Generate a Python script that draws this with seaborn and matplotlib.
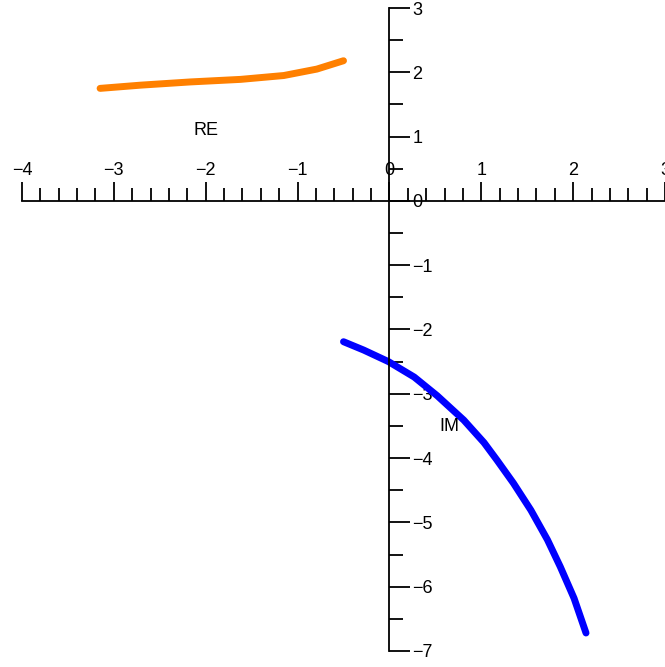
import matplotlib
matplotlib.use("Agg")
import matplotlib.pyplot as plt
import seaborn as sns
from matplotlib.ticker import MultipleLocator

# Werte
re_x = [-3.15, -2.71, -2.17, -1.62, -1.15, -0.79, -0.50]
re_y = [1.75, 1.80, 1.85, 1.89, 1.95, 2.05, 2.18]

im_x = [-0.50, -0.28, -0.01, 0.27, 0.52, 0.81, 1.03, 1.17, 1.35, 1.54, 1.72, 1.86, 2.01, 2.14]
im_y = [-2.19, -2.32, -2.50, -2.74, -3.03, -3.41, -3.76, -4.03, -4.39, -4.81, -5.27, -5.69, -6.18, -6.72]

sns.set_style("white")
plt.rcParams['font.family'] = ['Liberation Sans', 'DejaVu Sans']
plt.rcParams['text.color'] = 'black'
plt.rcParams['xtick.color'] = 'black'
plt.rcParams['ytick.color'] = 'black'

fig = plt.figure(figsize=(6.65, 6.67), dpi=100)
ax = fig.add_axes([0.0331, 0.024, 0.9669, 0.964])

sns.lineplot(x=re_x, y=re_y, ax=ax, color="#ff8000", linewidth=5, sort=False,
             solid_capstyle="round", solid_joinstyle="round")
sns.lineplot(x=im_x, y=im_y, ax=ax, color="#0000ff", linewidth=5, sort=False,
             solid_capstyle="round", solid_joinstyle="round")

ax.set_xlim(-4, 3)
ax.set_ylim(-7, 3)

# Achsen durch den Ursprung
ax.spines['bottom'].set_visible(False)
ax.spines['left'].set_visible(False)
ax.spines['top'].set_position(('data', 0))
ax.spines['right'].set_position(('data', 0))
for s in ['top', 'right']:
    ax.spines[s].set_color('black')
    ax.spines[s].set_linewidth(1.3)

ax.xaxis.set_ticks_position('top')
ax.yaxis.set_ticks_position('right')
ax.xaxis.set_major_locator(MultipleLocator(1))
ax.xaxis.set_minor_locator(MultipleLocator(0.2))
ax.yaxis.set_major_locator(MultipleLocator(1))
ax.yaxis.set_minor_locator(MultipleLocator(0.5))
ax.tick_params(axis='x', which='major', direction='out', length=13.7, width=1.3, labelsize=13, pad=2)
ax.tick_params(axis='x', which='minor', direction='out', length=9.4, width=1.3)
ax.tick_params(axis='y', which='major', direction='out', length=15, width=1.3, labelsize=13, pad=1.5)
ax.tick_params(axis='y', which='minor', direction='out', length=10, width=1.3)

ax.set_xlabel("")
ax.set_ylabel("")
ax.text(-2.0, 1.10, "RE", fontsize=13, ha='center', va='center')
ax.text(0.65, -3.51, "IM", fontsize=13, ha='center', va='center')

fig.savefig("out.png", dpi=100)
